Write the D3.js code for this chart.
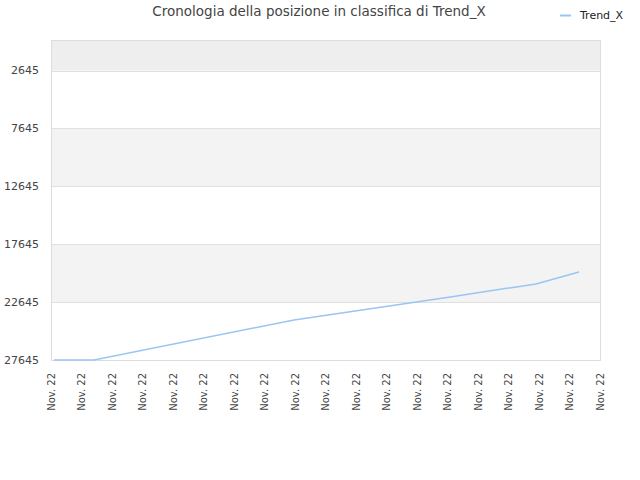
<!DOCTYPE html>
<html>
<head>
<meta charset="utf-8">
<script src="https://d3js.org/d3.v7.min.js"></script>
<style>
  body { margin: 0; background: #fff; }
  text { font-family: "DejaVu Sans", sans-serif; }
</style>
</head>
<body>
<div id="chart"></div>
<script>
// data
const seriesName = "Trend_X";
const dates = ["2022-11-10T01:48", "2022-11-11T01:48", "2022-11-16T01:48", "2022-11-20T00:36", "2022-11-22T03:00", "2022-11-23T04:48"];
const positions = [27645, 27645, 24187, 22171, 21073, 20035];
const yTicks = [2645, 7645, 12645, 17645, 22645, 27645];
const xTickLabels = ["Nov. 22", "Nov. 22", "Nov. 22", "Nov. 22", "Nov. 22", "Nov. 22", "Nov. 22", "Nov. 22", "Nov. 22", "Nov. 22",
                     "Nov. 22", "Nov. 22", "Nov. 22", "Nov. 22", "Nov. 22", "Nov. 22", "Nov. 22", "Nov. 22", "Nov. 22"];
const xStart = "2022-11-10T00:00", xEnd = "2022-11-23T17:24";

const width = 640, height = 480;
const margin = {top: 40, right: 40, bottom: 120, left: 51};
const parse = d3.isoParse;

const svg = d3.select("#chart").append("svg")
  .attr("width", width)
  .attr("height", height);

const x = d3.scaleTime()
  .domain([parse(xStart), parse(xEnd)])
  .range([margin.left, width - margin.right]);

const y = d3.scaleLinear()
  .domain([0, 27645])
  .range([margin.top, height - margin.bottom]);

// alternating bands
const bounds = [0].concat(yTicks);
const bands = d3.range(bounds.length - 1).map(i => ({i: i, a: bounds[i], b: bounds[i + 1]}));
svg.selectAll("rect.band")
  .data(bands.filter(d => d.i % 2 === 0))
  .enter().append("rect")
  .attr("x", margin.left)
  .attr("width", width - margin.right - margin.left)
  .attr("y", d => y(d.a))
  .attr("height", d => y(d.b) - y(d.a))
  .attr("fill", d => d.i === 0 ? "#eeeeee" : "#f3f3f3");

// grid lines
svg.selectAll("line.grid")
  .data(yTicks)
  .enter().append("line")
  .attr("x1", margin.left)
  .attr("x2", width - margin.right)
  .attr("y1", d => Math.round(y(d)) + 0.5)
  .attr("y2", d => Math.round(y(d)) + 0.5)
  .attr("stroke", "#e0e0e0");

// plot frame
svg.append("rect")
  .attr("x", margin.left + 0.5)
  .attr("y", margin.top + 0.5)
  .attr("width", width - margin.right - margin.left)
  .attr("height", height - margin.bottom - margin.top)
  .attr("fill", "none")
  .attr("stroke", "#dddddd");

// y labels
svg.selectAll("text.ylab")
  .data(yTicks)
  .enter().append("text")
  .attr("x", margin.left - 12)
  .attr("y", d => y(d))
  .attr("dy", "0.35em")
  .attr("text-anchor", "end")
  .attr("font-size", 11)
  .attr("fill", "#444")
  .text(d => d);

// x labels, evenly spaced over the domain
const t0 = parse(xStart).getTime(), t1 = parse(xEnd).getTime();
const xTicks = xTickLabels.map((lab, i) => ({lab: lab, t: new Date(t0 + (t1 - t0) * i / (xTickLabels.length - 1))}));
svg.selectAll("text.xlab")
  .data(xTicks)
  .enter().append("text")
  .attr("transform", d => "translate(" + x(d.t) + "," + (height - margin.bottom + 13) + ") rotate(-90)")
  .attr("dy", "0.35em")
  .attr("text-anchor", "end")
  .attr("font-size", 10)
  .attr("fill", "#444")
  .text(d => d.lab);

// series
const data = dates.map((d, i) => ({date: parse(d), value: positions[i]}));
svg.append("path")
  .datum(data)
  .attr("fill", "none")
  .attr("stroke", "#99c5f3")
  .attr("stroke-width", 1.5)
  .attr("d", d3.line().x(d => x(d.date)).y(d => y(d.value)));

// title
svg.append("text")
  .attr("x", 319)
  .attr("y", 16)
  .attr("text-anchor", "middle")
  .attr("font-size", 13.5)
  .attr("fill", "#444")
  .text("Cronologia della posizione in classifica di " + seriesName);

// legend
svg.append("line")
  .attr("x1", 560).attr("x2", 571)
  .attr("y1", 15.5).attr("y2", 15.5)
  .attr("stroke", "#99c5f3")
  .attr("stroke-width", 2);
svg.append("text")
  .attr("x", 580)
  .attr("y", 15)
  .attr("dy", "0.35em")
  .attr("font-size", 11)
  .attr("fill", "#222")
  .text(seriesName);
</script>
</body>
</html>
